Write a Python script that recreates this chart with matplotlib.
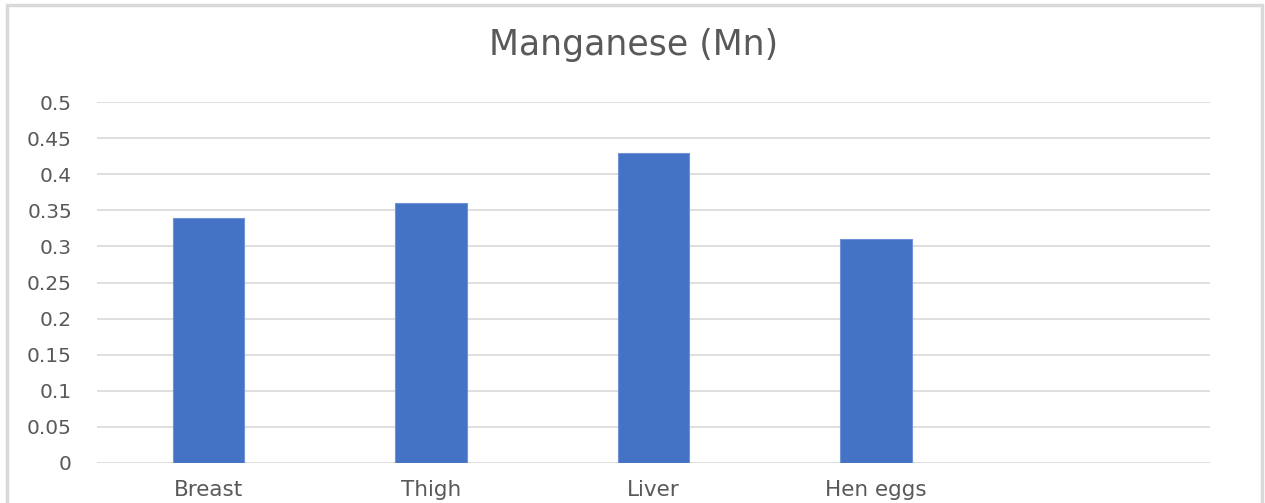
import matplotlib.pyplot as plt
from matplotlib.patches import Rectangle

# Manganese content per sample
categories = ['Breast', 'Thigh', 'Liver', 'Hen eggs', '']
values = [0.34, 0.36, 0.43, 0.31, None]
yticks = [0, 0.05, 0.1, 0.15, 0.2, 0.25, 0.3, 0.35, 0.4, 0.45, 0.5]
ytick_labels = ['0', '0.05', '0.1', '0.15', '0.2', '0.25', '0.3', '0.35', '0.4', '0.45', '0.5']

plt.rcParams['font.family'] = ['DejaVu Sans']

fig = plt.figure(figsize=(12.65, 5.03), dpi=100)
ax = fig.add_axes([97 / 1265, 1 - 463 / 503, (1210 - 97) / 1265, (463 - 102) / 503])

xs = list(range(len(categories)))
bar_x = [x for x, v in zip(xs, values) if v is not None]
bar_v = [v for v in values if v is not None]
ax.bar(bar_x, bar_v, width=0.32, color='#4472C4', edgecolor='#6E93D6', linewidth=0.8, zorder=3)

ax.set_xlim(-0.5, len(categories) - 0.5)
ax.set_ylim(0, 0.5)
ax.set_yticks(yticks)
ax.set_yticklabels(ytick_labels)
ax.set_xticks(xs)
ax.set_xticklabels(categories)
ax.tick_params(axis='y', length=0, labelsize=14.5, colors='#595959', pad=18)
ax.tick_params(axis='x', length=0, labelsize=15.5, colors='#595959', pad=12)

ax.yaxis.grid(True, color='#D9D9D9', linewidth=1.2, zorder=0)
for s in ax.spines.values():
    s.set_visible(False)

fig.text(634 / 1265, 1 - 45 / 503, 'Manganese (Mn)', ha='center', va='center',
         fontsize=25, color='#595959')

# chart frame
fig.patches.append(Rectangle((7 / 1265, -0.05), (1262 - 7) / 1265, 1.05 - 5 / 503,
                             transform=fig.transFigure, fill=False,
                             edgecolor='#D9D9D9', linewidth=2.5))

fig.savefig('out.png', dpi=100)
